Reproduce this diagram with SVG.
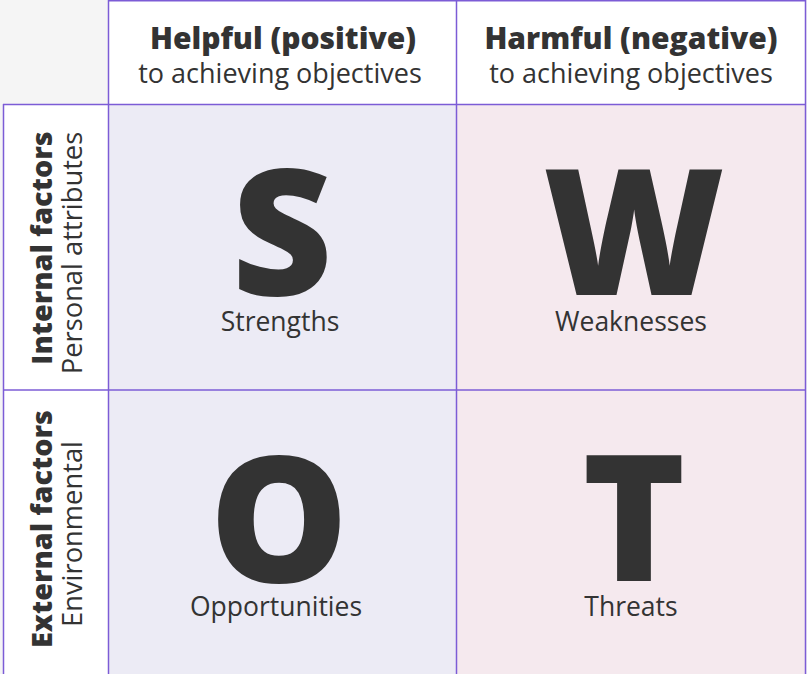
<svg xmlns="http://www.w3.org/2000/svg" width="807" height="674" viewBox="0 0 807 674">
<style>
.hb{font-family:"Open Sans","Liberation Sans",sans-serif;font-weight:800;font-size:30px;fill:#333;text-anchor:middle}
.hs{font-family:"Open Sans","Liberation Sans",sans-serif;font-weight:400;font-size:27px;fill:#333;text-anchor:middle}
.vb{font-family:"Open Sans","Liberation Sans",sans-serif;font-weight:800;font-size:28.8px;fill:#333;text-anchor:middle}
.vs{font-family:"Open Sans","Liberation Sans",sans-serif;font-weight:400;font-size:27.3px;fill:#333;text-anchor:middle}
.big{font-family:"Open Sans","Liberation Sans",sans-serif;font-weight:800;font-size:175px;fill:#333;text-anchor:middle}
.lbl{font-family:"Open Sans","Liberation Sans",sans-serif;font-weight:400;font-size:26.5px;fill:#333;text-anchor:middle}
.ln{stroke:#7c5cd6;stroke-width:1.5;fill:none}
</style>
<rect x="0" y="0" width="807" height="674" fill="#f5f5f5"/>
<g id="header-helpful">
<rect x="108" y="0" width="348" height="104" fill="#ffffff"/>
<text class="hb" x="283" y="49">Helpful (positive)</text>
<text class="hs" x="280" y="83">to achieving objectives</text>
</g>
<g id="header-harmful">
<rect x="456" y="0" width="350" height="104" fill="#ffffff"/>
<text class="hb" x="631" y="49">Harmful (negative)</text>
<text class="hs" x="631" y="83">to achieving objectives</text>
</g>
<g id="row-internal">
<rect x="3" y="104" width="105" height="286" fill="#ffffff"/>
<text class="vb" transform="translate(52,248) rotate(-90)" x="0" y="0">Internal factors</text>
<text class="vs" transform="translate(82,253) rotate(-90)" x="0" y="0">Personal attributes</text>
</g>
<g id="row-external">
<rect x="3" y="390" width="105" height="284" fill="#ffffff"/>
<text class="vb" transform="translate(52,529) rotate(-90)" x="0" y="0">External factors</text>
<text class="vs" transform="translate(82,534) rotate(-90)" x="0" y="0">Environmental</text>
</g>
<g id="strengths">
<rect x="108" y="104" width="348" height="286" fill="#ecebf5"/>
<text class="big" x="282" y="295">S</text>
<text class="lbl" x="280" y="331">Strengths</text>
</g>
<g id="weaknesses">
<rect x="456" y="104" width="350" height="286" fill="#f5e9ee"/>
<text class="big" x="634" y="295">W</text>
<text class="lbl" x="631" y="331">Weaknesses</text>
</g>
<g id="opportunities">
<rect x="108" y="390" width="348" height="284" fill="#ecebf5"/>
<text class="big" x="279" y="582">O</text>
<text class="lbl" x="276" y="616">Opportunities</text>
</g>
<g id="threats">
<rect x="456" y="390" width="350" height="284" fill="#f5e9ee"/>
<text class="big" x="634" y="581">T</text>
<text class="lbl" x="631" y="616">Threats</text>
</g>
<g id="grid-lines">
<line class="ln" x1="108" y1="0.75" x2="806" y2="0.75"/>
<line class="ln" x1="3" y1="104.5" x2="806" y2="104.5"/>
<line class="ln" x1="3" y1="390" x2="806" y2="390"/>
<line class="ln" x1="3.5" y1="104" x2="3.5" y2="674"/>
<line class="ln" x1="108.5" y1="0" x2="108.5" y2="674"/>
<line class="ln" x1="456.5" y1="0" x2="456.5" y2="674"/>
<line class="ln" x1="805.5" y1="0" x2="805.5" y2="674"/>
</g>
</svg>
